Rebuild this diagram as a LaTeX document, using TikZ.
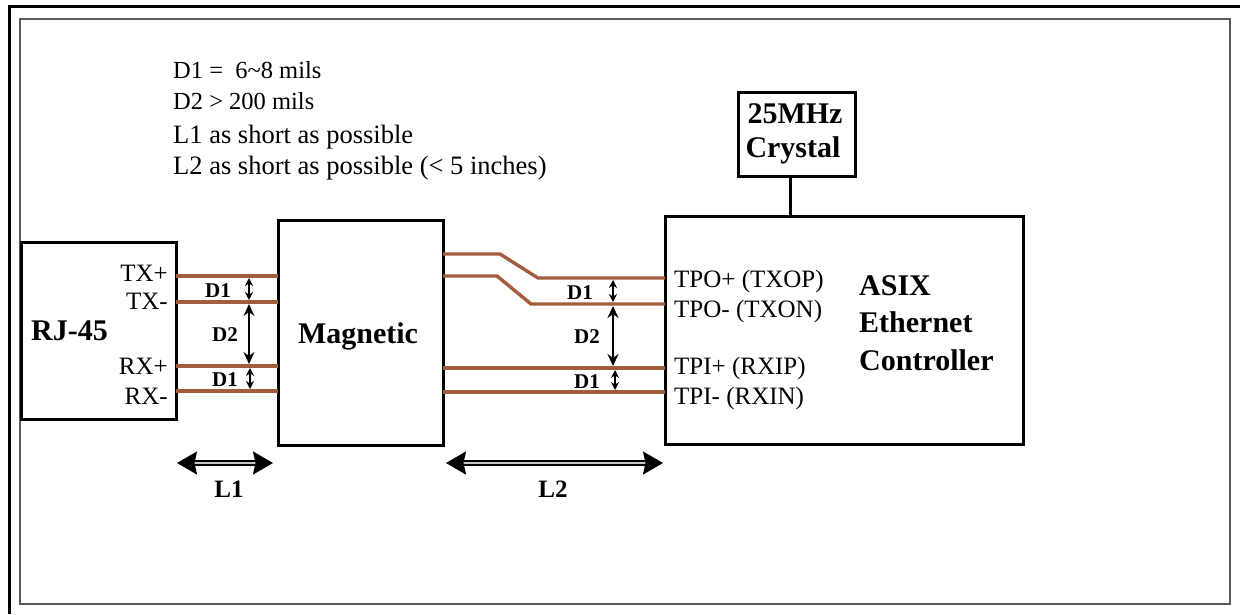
\documentclass[tikz,border=0pt]{standalone}
\usepackage{fontspec}
\setmainfont{Liberation Serif}
\usetikzlibrary{arrows.meta,calc}
\definecolor{tracecol}{RGB}{163,92,62}
\definecolor{framegray}{RGB}{90,90,90}
\begin{document}
\begin{tikzpicture}[x=1pt,y=-1pt,
  box/.style={draw=black,line width=3pt,inner sep=0pt,outer sep=0pt},
  trace/.style={draw=tracecol,line width=3.4pt},
  pin/.style={inner sep=0pt,font=\fontsize{25}{28}\selectfont},
  note/.style={inner sep=0pt,anchor=base west},
  big/.style={inner sep=0pt,font=\bfseries\fontsize{30}{34}\selectfont},
  dlab/.style={inner sep=0pt,anchor=base,font=\bfseries\fontsize{21}{24}\selectfont},
  llab/.style={inner sep=0pt,anchor=base,font=\bfseries\fontsize{25}{28}\selectfont},
  dsmall/.style={line width=1.3pt,{Stealth[length=8pt,width=8pt]}-{Stealth[length=8pt,width=8pt]}},
  dbig/.style={line width=1.6pt,{Stealth[length=12pt,width=11pt]}-{Stealth[length=12pt,width=11pt]}},
  larrow/.style={line width=2.2pt,double=gray!45,double distance=1.2pt,
    {Stealth[length=20pt,width=23pt,inset=2.5pt]}-{Stealth[length=20pt,width=23pt,inset=2.5pt]}}]
\useasboundingbox (0,0) rectangle (1240,614);
% frames
\draw[line width=3pt] (9,614) -- (9,6) -- (1240,6);
\draw[framegray,line width=1.6pt] (20,19) rectangle (1230,604);

% notes
\node[note,font=\fontsize{24.5}{27}\selectfont] (n1) at (173,78) {D1 =\ \ 6\textasciitilde 8 mils};
\node[note,font=\fontsize{24.5}{27}\selectfont] (n2) at (173,109) {D2 > 200 mils};
\node[note,font=\fontsize{26.5}{29}\selectfont] (n3) at (173,143) {L1 as short as possible};
\node[note,font=\fontsize{26.5}{29}\selectfont] (n4) at (173,174) {L2 as short as possible (< 5 inches)};

% boxes
\node[box,minimum width=155pt,minimum height=177pt] (rj) at (98.5,330.5) {};
\node[box,minimum width=165pt,minimum height=225pt] (mag) at (360.5,332.5) {};
\node[box,minimum width=358pt,minimum height=228pt] (ctrl) at (844,330) {};
\node[box,minimum width=117pt,minimum height=84pt] (xtal) at (796.5,134) {};

% box texts
\node[big,anchor=base west] (rjt) at (31,340) {RJ-45};
\node[big,anchor=base] (magt) at (358,343) {Magnetic};
\node[big,anchor=base] (xt1) at (795,123) {25MHz};
\node[big,anchor=base] (xt2) at (793,157) {Crystal};
\node[big,anchor=base west] (c1) at (859,295) {ASIX};
\node[big,anchor=base west] (c2) at (859,332) {Ethernet};
\node[big,anchor=base west] (c3) at (859,370) {Controller};

% pins
\node[pin,anchor=base east] (p1) at (168,281) {TX+};
\node[pin,anchor=base east] (p2) at (168,309) {TX-};
\node[pin,anchor=base east] (p3) at (168,374) {RX+};
\node[pin,anchor=base east] (p4) at (168,404) {RX-};
\node[pin,anchor=base west] (q1) at (674,287) {TPO+ (TXOP)};
\node[pin,anchor=base west] (q2) at (674,317) {TPO- (TXON)};
\node[pin,anchor=base west] (q3) at (674,374) {TPI+ (RXIP)};
\node[pin,anchor=base west] (q4) at (674,404) {TPI- (RXIN)};

% crystal connector
\coordinate (xc) at (790,0);
\draw[line width=3pt] (xc |- xtal.south) -- (xc |- ctrl.north);

% traces left
\draw[trace] (rj.east |- 0,276) -- (mag.west |- 0,276);
\draw[trace] (rj.east |- 0,302) -- (mag.west |- 0,302);
\draw[trace] (rj.east |- 0,366) -- (mag.west |- 0,366);
\draw[trace] (rj.east |- 0,391) -- (mag.west |- 0,391);
% traces right
\draw[trace] (mag.east |- 0,254) -- (500,254) -- (538,278) -- (ctrl.west |- 0,278);
\draw[trace] (mag.east |- 0,276) -- (497,276) -- (531,304) -- (ctrl.west |- 0,304);
\draw[trace] (mag.east |- 0,368) -- (ctrl.west |- 0,368);
\draw[trace] (mag.east |- 0,392) -- (ctrl.west |- 0,392);

% spacing arrows left
\coordinate (a1) at (249,278); \coordinate (a2) at (249,300);
\coordinate (a3) at (249,304); \coordinate (a4) at (249,364);
\coordinate (a5) at (250,368); \coordinate (a6) at (250,389);
\draw[dsmall] (a1) -- (a2);
\draw[dbig] (a3) -- (a4);
\draw[dsmall] (a5) -- (a6);
\node[dlab] (dl1) at (218,297) {D1};
\node[dlab] (dl2) at (225,341) {D2};
\node[dlab] (dl3) at (225,386) {D1};
% spacing arrows right
\coordinate (b1) at (613,280); \coordinate (b2) at (613,302);
\coordinate (b3) at (613,306); \coordinate (b4) at (613,366);
\coordinate (b5) at (615,370); \coordinate (b6) at (615,390);
\draw[dsmall] (b1) -- (b2);
\draw[dbig] (b3) -- (b4);
\draw[dsmall] (b5) -- (b6);
\node[dlab] (dr1) at (580,299) {D1};
\node[dlab] (dr2) at (587,343) {D2};
\node[dlab] (dr3) at (587,388) {D1};

% length arrows
\coordinate (L1a) at (177,463); \coordinate (L1b) at (273,463);
\coordinate (L2a) at (446,463); \coordinate (L2b) at (663,463);
\draw[larrow] (L1a) -- (L1b);
\draw[larrow] (L2a) -- (L2b);
\node[llab] (l1) at (229,497) {L1};
\node[llab] (l2) at (553,497) {L2};
\end{tikzpicture}
\end{document}
